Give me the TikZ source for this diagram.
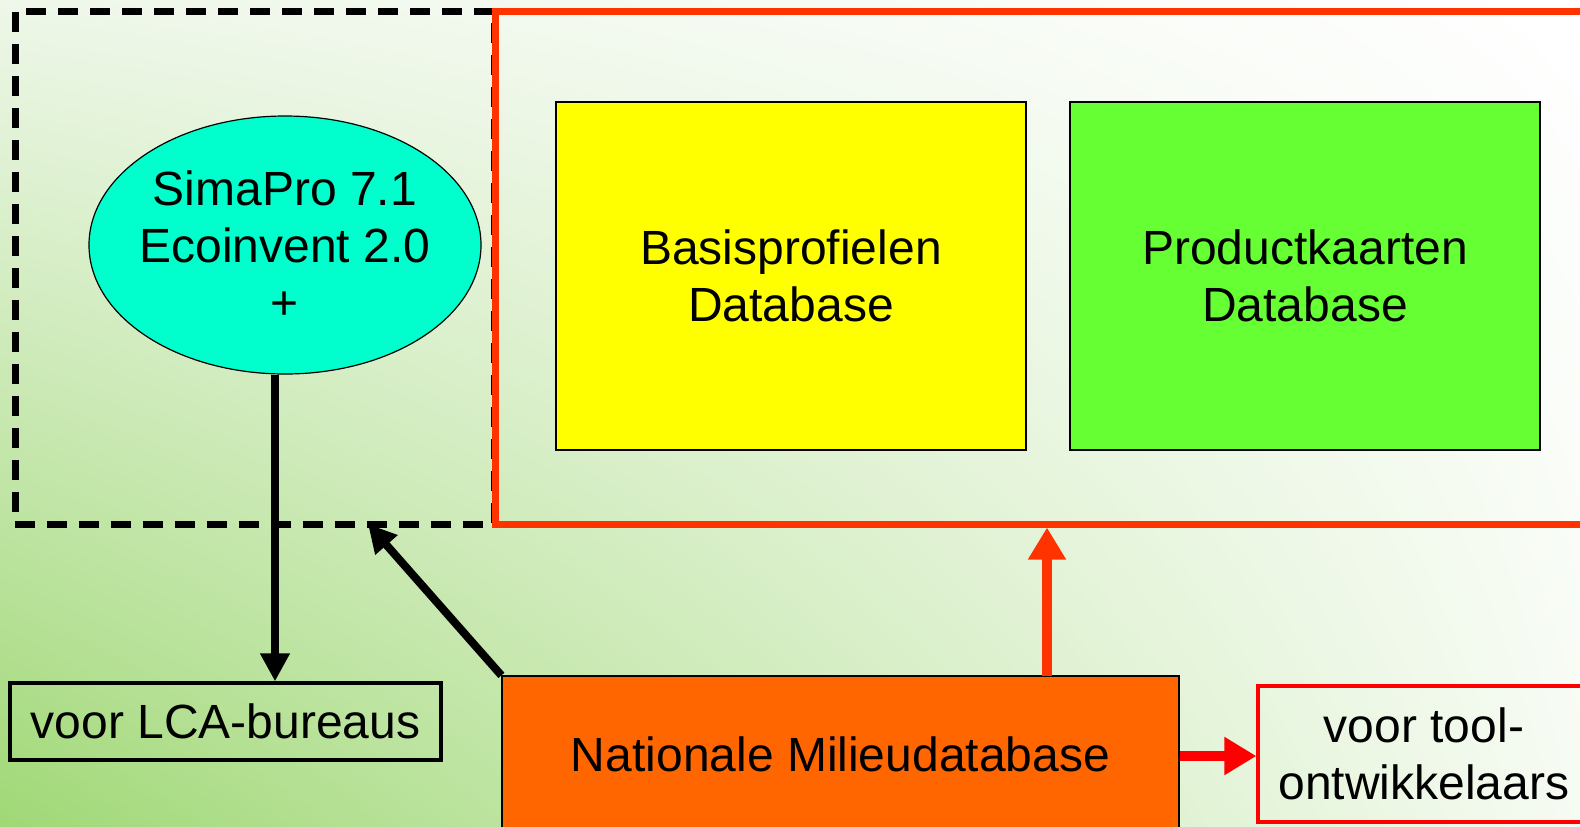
\documentclass[tikz,border=0pt]{standalone}
\usepackage{fontspec}
\setmainfont{Liberation Sans}
\usepackage{xcolor}
\usetikzlibrary{arrows.meta, positioning, shapes.geometric, shadings}
\definecolor{framered}{HTML}{FF3300}
\definecolor{toolred}{HTML}{FF0000}
\definecolor{simacyan}{HTML}{00FFCC}
\definecolor{basisyellow}{HTML}{FFFF00}
\definecolor{productgreen}{HTML}{66FF33}
\definecolor{nmdorange}{HTML}{FF6600}
\definecolor{bgtopleft}{HTML}{EEF7E9}
\definecolor{bgbottomleft}{HTML}{A0D876}
\definecolor{bgbottomright}{HTML}{F6FBF3}
\tikzstyle{bigtext} = [font=\fontsize{24}{28.5}\selectfont, align=center, inner sep=0pt]
\tikzstyle{dbblock} = [bigtext, rectangle, draw=black, line width=0.8pt, minimum width=235pt, minimum height=174pt]
\tikzstyle{userblock} = [bigtext, rectangle, line width=1.6pt]
\tikzstyle{blackarrow} = [line width=4pt, -{Triangle[length=14pt, width=14pt]}]
\tikzstyle{redarrow} = [line width=5pt, -{Triangle[length=16pt, width=18pt]}]

\begin{document}
\begin{tikzpicture}[x=0.5pt, y=-0.5pt]
    \useasboundingbox (0,0) rectangle (1580,826);
    \clip (0,0) rectangle (1580,826);
    % background
    \shade[upper left=bgtopleft, upper right=white,
           lower left=bgbottomleft, lower right=bgbottomright]
        (0,0) rectangle (1580,826);

    % frames
    \node (lcaframe) [draw=black, line width=3.5pt, dash pattern=on 10pt off 6pt,
        minimum width=239.5pt, minimum height=256.5pt, inner sep=0pt] at (254.5,267.5) {};
    \node (dbframe) [draw=framered, line width=3.5pt,
        minimum width=557.5pt, minimum height=256.5pt, inner sep=0pt] at (1052.5,267.5) {};

    % databases
    \node (sima) [bigtext, ellipse, draw=black, line width=0.6pt, fill=simacyan,
        inner xsep=-8pt, inner ysep=0pt,
        minimum width=196pt, minimum height=129pt] at (285,245) {SimaPro 7.1\\Ecoinvent 2.0\\+};
    \node (basis) [dbblock, fill=basisyellow] at (791,276) {Basisprofielen\\Database};
    \node (product) [dbblock, fill=productgreen] at (1305,276) {Productkaarten\\Database};

    % users
    \node (lca) [userblock, draw=black, minimum width=215.5pt, minimum height=38.5pt] at (225.5,721.5) {voor LCA-bureaus};
    \node (nmd) [bigtext, rectangle, draw=black, line width=0.6pt, fill=nmdorange,
        minimum width=338.5pt, minimum height=78pt] at (840.5,754) {Nationale Milieudatabase};
    \node (tool) [userblock, draw=toolred, minimum width=166pt, minimum height=68pt] at (1424,754) {voor tool-\\ontwikkelaars};

    \coordinate (diagtip) at (368,524);
    \coordinate (nmdup) at (1047,676);

    \draw[blackarrow] ([xshift=-5pt]sima.south) -- ([xshift=-5pt]sima.south |- lca.north);
    \draw[blackarrow] (nmd.north west) -- (diagtip);
    \draw[redarrow, draw=framered, fill=framered] (nmdup) -- (nmdup |- dbframe.south);
    \draw[redarrow, draw=toolred, fill=toolred] ([yshift=-1pt]nmd.east) -- ([yshift=-1pt]tool.west);
\end{tikzpicture}
\end{document}
